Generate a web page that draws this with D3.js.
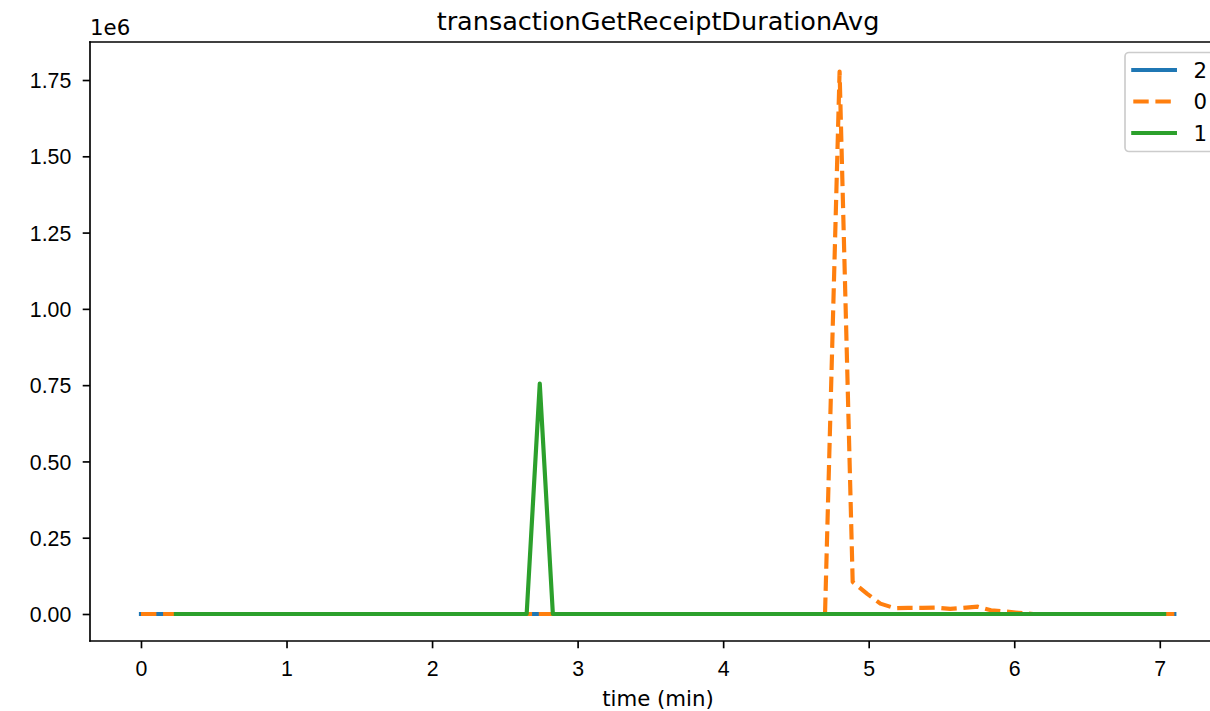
<!DOCTYPE html>
<html>
<head>
<meta charset="utf-8">
<script src="https://cdn.jsdelivr.net/npm/d3@7"></script>
<style>
  body { margin: 0; background: #fff; }
  svg { display: block; font-family: "DejaVu Sans", sans-serif; }
</style>
</head>
<body>
<div id="chart"></div>
<script>
// chart data
var chartTitle = "transactionGetReceiptDurationAvg";
var xLabel = "time (min)";
var seriesNames = ["2", "0", "1"];
var seriesColors = ["#1f77b4", "#ff7f0e", "#2ca02c"];

var times2 = [0.0, 1.0, 2.0, 3.0, 4.0, 5.0, 6.0, 7.1];
var values2 = [0, 0, 0, 0, 0, 0, 0, 0];

var times0 = [0.0, 4.70, 4.80, 4.89, 4.99, 5.08, 5.18, 5.27, 5.37, 5.46, 5.56, 5.65, 5.75, 5.84, 5.94, 6.03, 6.13, 7.10];
var values0 = [0, 0, 1778000, 105000, 66000, 34000, 19000, 20000, 20000, 21000, 17000, 20000, 24000, 12000, 8000, 4000, 0, 0];

var times1 = [0.24, 2.65, 2.74, 2.83, 7.03];
var values1 = [0, 0, 755000, 0, 0];

var xTicks = [0, 1, 2, 3, 4, 5, 6, 7];
var yTicks = [0, 250000, 500000, 750000, 1000000, 1250000, 1500000, 1750000];

// layout (matplotlib-like, dpi ~150)
var W = 1210, H = 711;
var mLeft = 90, mRight = 1226, mTop = 42, mBottom = 641;
var fs = 21.3, lw = 4.17, spineW = 1.67, tickLen = 7.3;

var svg = d3.select("#chart").append("svg")
    .attr("width", W)
    .attr("height", H);

svg.append("rect").attr("width", W).attr("height", H).attr("fill", "#fff");

var x = d3.scaleLinear().domain([-0.3503, 7.455]).range([mLeft, mRight]);
var y = d3.scaleLinear().domain([-88500, 1874600]).range([mBottom, mTop]);

// x axis
var xAxis = svg.append("g")
    .attr("transform", "translate(0," + mBottom + ")")
    .call(d3.axisBottom(x).tickValues(xTicks).tickFormat(d3.format("d")).tickSize(tickLen).tickPadding(7.3));
xAxis.select(".domain").remove();
xAxis.selectAll("line").attr("stroke", "#000").attr("stroke-width", spineW);
xAxis.selectAll("text")
    .attr("fill", "#000")
    .style("font-size", fs + "px")
    .attr("dy", null)
    .attr("y", 35);

// y axis
var yAxis = svg.append("g")
    .attr("transform", "translate(" + mLeft + ",0)")
    .call(d3.axisLeft(y).tickValues(yTicks).tickFormat(function (d) { return d3.format(".2f")(d / 1e6); }).tickSize(tickLen).tickPadding(11.4));
yAxis.select(".domain").remove();
yAxis.selectAll("line").attr("stroke", "#000").attr("stroke-width", spineW);
yAxis.selectAll("text")
    .attr("fill", "#000")
    .style("font-size", fs + "px")
    .attr("dy", "0.36em");

// series lines
var allSeries = [
    { name: seriesNames[0], times: times2, values: values2, color: seriesColors[0], dash: null },
    { name: seriesNames[1], times: times0, values: values0, color: seriesColors[1], dash: "15.4,6.7" },
    { name: seriesNames[2], times: times1, values: values1, color: seriesColors[2], dash: null }
];

var line = d3.line()
    .x(function (d) { return x(d[0]); })
    .y(function (d) { return y(d[1]); });

allSeries.forEach(function (s) {
    var pts = s.times.map(function (t, i) { return [t, s.values[i]]; });
    svg.append("path")
        .datum(pts)
        .attr("d", line)
        .attr("fill", "none")
        .attr("stroke", s.color)
        .attr("stroke-width", lw)
        .attr("stroke-linejoin", "round")
        .attr("stroke-linecap", s.dash ? "butt" : "square")
        .attr("stroke-dasharray", s.dash);
});

// spines
svg.append("line").attr("x1", mLeft).attr("x2", mLeft).attr("y1", mTop).attr("y2", mBottom)
    .attr("stroke", "#000").attr("stroke-width", spineW).attr("stroke-linecap", "square");
svg.append("line").attr("x1", mLeft).attr("x2", mRight).attr("y1", mBottom).attr("y2", mBottom)
    .attr("stroke", "#000").attr("stroke-width", spineW).attr("stroke-linecap", "square");
svg.append("line").attr("x1", mLeft).attr("x2", mRight).attr("y1", mTop).attr("y2", mTop)
    .attr("stroke", "#000").attr("stroke-width", spineW).attr("stroke-linecap", "square");
svg.append("line").attr("x1", mRight).attr("x2", mRight).attr("y1", mTop).attr("y2", mBottom)
    .attr("stroke", "#000").attr("stroke-width", spineW);

// title, offset text, x label
svg.append("text")
    .attr("x", (mLeft + mRight) / 2).attr("y", 29.5)
    .attr("text-anchor", "middle")
    .style("font-size", "25.5px")
    .text(chartTitle);

svg.append("text")
    .attr("x", mLeft).attr("y", 35)
    .style("font-size", fs + "px")
    .text("1e6");

svg.append("text")
    .attr("x", (mLeft + mRight) / 2).attr("y", 706)
    .attr("text-anchor", "middle")
    .style("font-size", fs + "px")
    .text(xLabel);

// legend (upper right, partly cut by the figure edge)
var lg = svg.append("g").attr("transform", "translate(1125,52.5)");
lg.append("rect")
    .attr("width", 90.6).attr("height", 99)
    .attr("rx", 4).attr("ry", 4)
    .attr("fill", "#fff").attr("fill-opacity", 0.8)
    .attr("stroke", "#cccccc").attr("stroke-width", 1.67);

var rowY = [17.5, 49, 80.5];
allSeries.forEach(function (s, i) {
    lg.append("line")
        .attr("x1", 8.3).attr("x2", 49.9)
        .attr("y1", rowY[i]).attr("y2", rowY[i])
        .attr("stroke", s.color)
        .attr("stroke-width", lw)
        .attr("stroke-linecap", s.dash ? "butt" : "square")
        .attr("stroke-dasharray", s.dash);
    lg.append("text")
        .attr("x", 68.5).attr("y", rowY[i])
        .attr("dy", "0.36em")
        .style("font-size", fs + "px")
        .text(s.name);
});
</script>
</body>
</html>
